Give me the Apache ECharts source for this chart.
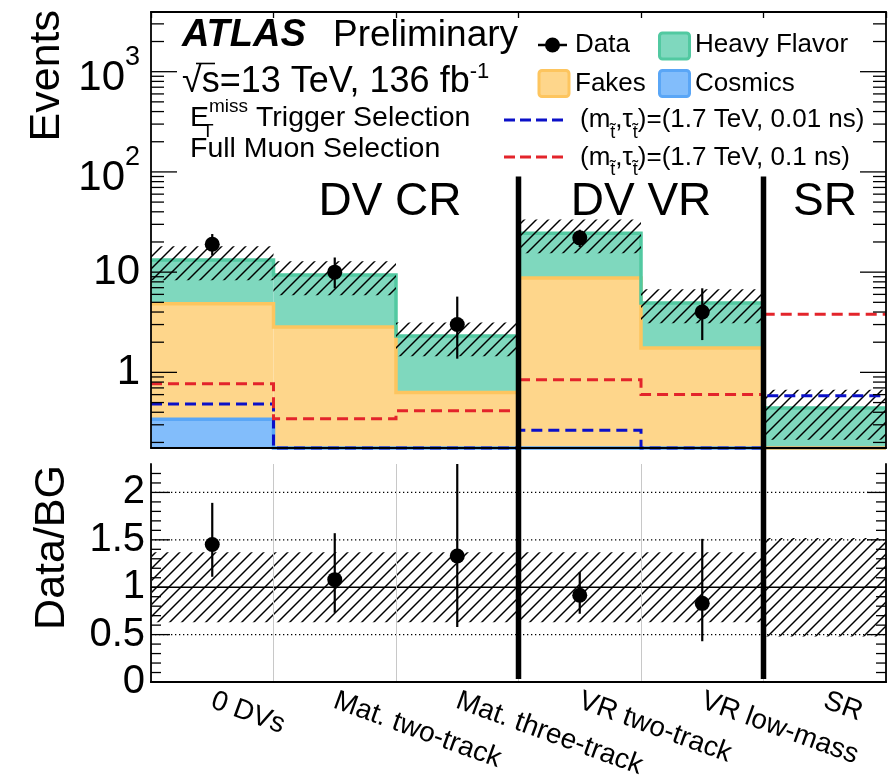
<!DOCTYPE html>
<html><head><meta charset="utf-8">
<script src="https://cdn.jsdelivr.net/npm/echarts@6/dist/echarts.min.js"></script>
<style>html,body{margin:0;padding:0;background:#fff}#c{width:888px;height:784px}</style>
</head><body><div id="c"></div>
<script>
// ---------------- data ----------------
const categories = ['0 DVs', 'Mat. two-track', 'Mat. three-track', 'VR two-track', 'VR low-mass', 'SR'];
const cosmics     = [0.34, 0, 0, 0, 0, 0];
const fakes       = [4.51, 2.84, 0.63, 8.73, 1.75, 0];
const heavyFlavor = [8.35, 6.52, 1.67, 15.77, 3.17, 0.442];
const bkgRelUnc   = [0.37, 0.37, 0.37, 0.37, 0.37, 0.52];
const dataCounts  = [19, 10, 3, 22, 4];
const dataErrLow  = [14.7, 6.9, 1.37, 17.8, 2.1];
const dataErrHigh = [24.0, 14.0, 5.7, 26.5, 6.9];
const signal001   = [0.484, 0, 0, 0.264, 0, 0.586];   // (1.7 TeV, 0.01 ns)
const signal01    = [0.77, 0.345, 0.415, 0.846, 0.60, 3.8]; // (1.7 TeV, 0.1 ns)
const ratio       = [1.45, 1.08, 1.33, 0.915, 0.83];
const ratioLow    = [1.11, 0.73, 0.58, 0.72, 0.43];
const ratioHigh   = [1.89, 1.57, 2.55, 1.16, 1.51];
const topTicks      = [1, 10, 100, 1000];
const topTickLabels = ['1', '10', '10^2', '10^3'];
const topMinorTicks = [0.2,0.3,0.4,0.5,0.6,0.7,0.8,0.9, 2,3,4,5,6,7,8,9, 20,30,40,50,60,70,80,90, 200,300,400,500,600,700,800,900, 2000,3000];
const ratioTicks      = [0, 0.5, 1, 1.5, 2];
const ratioTickLabels = ['0', '0.5', '1', '1.5', '2'];
const ratioMinorTicks = [0.1,0.2,0.3,0.4,0.6,0.7,0.8,0.9,1.1,1.2,1.3,1.4,1.6,1.7,1.8,1.9,2.1,2.2];
const ratioDottedLines = [0.5, 1.5, 2];
const ratioUnityLine   = [1];
const regionLabels     = ['DV CR', 'DV VR', 'SR'];
const regionBoundaries = [3, 5];   // separator after bin index
const separatorTop     = 90;       // separator starts at this Events value

// ---------------- style ----------------
const FONT = '"Liberation Sans", Arial, Helvetica, sans-serif';
const Y_MIN = 0.176, Y_MAX = 3940, R_MAX = 2.3;
const C = { hf:'#7fd8be', hfEdge:'#52c9a1', fk:'#fed68b', fkEdge:'#fdc55f', cs:'#82bdfb', csEdge:'#5aa6f6', red:'#e3242b', blue:'#0b10c8' };

const chart = echarts.init(document.getElementById('c'), null, {renderer:'canvas'});

function hatchPattern() {
  const s = 12, cv = document.createElement('canvas'); cv.width = s; cv.height = s;
  const g = cv.getContext('2d'); g.strokeStyle = '#000'; g.lineWidth = 1.45;
  g.beginPath();
  g.moveTo(0, s); g.lineTo(s, 0);
  g.moveTo(-s/2, s/2); g.lineTo(s/2, -s/2);
  g.moveTo(s/2, s*1.5); g.lineTo(s*1.5, s/2);
  g.stroke();
  return {image: cv, repeat: 'repeat'};
}
const HATCH = hatchPattern();

const stackCos = cosmics.slice();
const stackFk  = cosmics.map((c, i) => c + fakes[i]);
const stackTot = stackFk.map((s, i) => s + heavyFlavor[i]);

function bw(api, yv) { return api.coord([1, yv])[0] - api.coord([0, yv])[0]; }

// filled bins [i, lower, upper]
function fillSeries(lower, upper, fill, z, xi, yi, yClamp) {
  return { type:'custom', xAxisIndex:xi, yAxisIndex:yi, z, silent:true, encode:{x:0, y:2},
    data: upper.map((u, i) => [i, lower ? lower[i] : 0, u]),
    renderItem: (params, api) => {
      const i = api.value(0), lo = Math.max(api.value(1), yClamp), hi = api.value(2);
      if (!(hi > lo)) return null;
      const a = api.coord([i, hi]), b = api.coord([i, lo]), w = bw(api, yClamp > 0 ? yClamp : 1);
      return {type:'rect', shape:{x:a[0]-w/2, y:a[1], width:w, height:b[1]-a[1]}, style:{fill}};
    }};
}
// step outline drawn as one polyline from all bins
function stepSeries(values, style, z, clampMin) {
  return { type:'custom', xAxisIndex:0, yAxisIndex:0, z, silent:true, encode:{x:0, y:1},
    data: values.map((v, i) => [i, v]),
    renderItem: (params, api) => {
      if (params.dataIndexInside !== 0) return null;
      const pts = [];
      for (let k = 0; k < values.length; k++) {
        const v = Math.max(api.value(1, k), clampMin);
        const c = api.coord([api.value(0, k), v]), w = bw(api, clampMin);
        pts.push([c[0]-w/2, c[1]], [c[0]+w/2, c[1]]);
      }
      return {type:'polyline', shape:{points:pts}, style:Object.assign({fill:null}, style)};
    }};
}
function errSeries(lo, hi, xi, yi, z) {
  return { type:'custom', xAxisIndex:xi, yAxisIndex:yi, z, silent:true, encode:{x:0, y:2},
    data: lo.map((l, i) => [i, l, hi[i]]),
    renderItem: (params, api) => {
      const a = api.coord([api.value(0), api.value(1)]), b = api.coord([api.value(0), api.value(2)]);
      const cs = params.coordSys;
      return {type:'line', shape:{x1:a[0], y1:a[1], x2:b[0], y2:Math.max(b[1], cs.y)}, style:{stroke:'#000', lineWidth:2.2}};
    }};
}
function tickSeries(vals, len, xi, yi) {
  return { type:'custom', xAxisIndex:xi, yAxisIndex:yi, z:20, silent:true, encode:{x:0, y:1},
    data: vals.map(v => [0, v]),
    renderItem: (params, api) => {
      const y = api.coord([0, api.value(1)])[1], cs = params.coordSys;
      return {type:'group', children:[
        {type:'line', shape:{x1:cs.x, y1:y, x2:cs.x+len, y2:y}, style:{stroke:'#000', lineWidth:1.3}},
        {type:'line', shape:{x1:cs.x+cs.width-len, y1:y, x2:cs.x+cs.width, y2:y}, style:{stroke:'#000', lineWidth:1.3}}
      ]};
    }};
}
function hLineSeries(vals, style, z) {
  return { type:'custom', xAxisIndex:2, yAxisIndex:2, z, silent:true, encode:{x:0, y:1},
    data: vals.map(v => [0, v]),
    renderItem: (params, api) => {
      const y = api.coord([0, api.value(1)])[1], cs = params.coordSys;
      return {type:'line', shape:{x1:cs.x, y1:y, x2:cs.x+cs.width, y2:y}, style:Object.assign({fill:null}, style)};
    }};
}
function separatorSeries(top) {
  return { type:'custom', xAxisIndex: top ? 0 : 2, yAxisIndex: top ? 0 : 2, z:30, silent:true, encode:{x:0, y:1},
    data: regionBoundaries.map(b => [b, top ? separatorTop : R_MAX]),
    renderItem: (params, api) => {
      const cs = params.coordSys, b = api.value(0);
      const yv = top ? Y_MIN : 0.5;
      const x = (api.coord([b-1, yv])[0] + api.coord([b, yv])[0]) / 2;
      const y1 = top ? api.coord([b, api.value(1)])[1] : cs.y;
      const y2 = top ? cs.y + cs.height + 16 : cs.y + cs.height - 3;
      return {type:'line', shape:{x1:x, y1, x2:x, y2}, style:{stroke:'#000', lineWidth:5.5}};
    }};
}

const labelFmtTop = v => {
  const k = topTicks.findIndex(t => Math.abs(t - v) / t < 1e-6);
  if (k < 0) return '';
  const lab = topTickLabels[k];
  if (lab.indexOf('^') >= 0) { const p = lab.split('^'); return '{b|' + p[0] + '}{e|' + p[1] + '}'; }
  return '{n|' + lab + '}';
};
const labelFmtRatio = v => {
  const k = ratioTicks.findIndex(t => Math.abs(t - v) < 1e-6);
  return k < 0 ? '' : ratioTickLabels[k];
};

const frameLine = {show:true, lineStyle:{color:'#000', width:1.8}};
const catAxis = (gi, pos, extra) => Object.assign({type:'category', gridIndex:gi, position:pos, data:categories, boundaryGap:true, z:10,
  axisLine:frameLine, axisTick:{show:false}, axisLabel:{show:false}, splitLine:{show:false}}, extra || {});

const option = {
  animation:false,
  backgroundColor:'#fff',
  grid:[{left:151, top:12, width:735, height:436}, {left:151, top:464, width:735, height:218}],
  xAxis:[
    catAxis(0, 'bottom'),
    catAxis(0, 'top', {axisTick:{show:true, inside:true, length:6, lineStyle:{color:'#000', width:1.3}}}),
    catAxis(1, 'bottom', {axisLabel:{show:true, interval:0, rotate:-20, margin:18, fontSize:28, fontFamily:FONT, color:'#000'},
      splitLine:{show:true, interval:0, lineStyle:{color:'#c8c8c8', width:1}}}),
    catAxis(1, 'top')
  ],
  yAxis:[
    {type:'log', logBase:10, gridIndex:0, position:'left', min:Y_MIN, max:Y_MAX, z:10, axisLine:frameLine, axisTick:{show:false}, splitLine:{show:false},
      axisLabel:{show:true, margin:11, formatter:labelFmtTop, color:'#000',
        rich:{n:{fontSize:42, fontFamily:FONT, lineHeight:44, color:'#000'},
              b:{fontSize:42, fontFamily:FONT, lineHeight:44, verticalAlign:'bottom', color:'#000'},
              e:{fontSize:27, fontFamily:FONT, lineHeight:56, verticalAlign:'top', color:'#000'}}}},
    {type:'log', logBase:10, gridIndex:0, position:'right', min:Y_MIN, max:Y_MAX, z:10, axisLine:frameLine, axisTick:{show:false}, axisLabel:{show:false}, splitLine:{show:false}},
    {type:'value', gridIndex:1, position:'left', min:0, max:R_MAX, interval:0.5, z:10, axisLine:frameLine, axisTick:{show:false}, splitLine:{show:false},
      axisLabel:{show:true, margin:6, formatter:labelFmtRatio, fontSize:40, fontFamily:FONT, color:'#000'}},
    {type:'value', gridIndex:1, position:'right', min:0, max:R_MAX, interval:0.5, z:10, axisLine:frameLine, axisTick:{show:false}, axisLabel:{show:false}, splitLine:{show:false}}
  ],
  series:[
    // stacked backgrounds
    fillSeries(null, stackCos, C.cs, 1, 0, 0, Y_MIN),
    fillSeries(stackCos, stackFk, C.fk, 1, 0, 0, Y_MIN),
    fillSeries(stackFk, stackTot, C.hf, 1, 0, 0, Y_MIN),
    stepSeries(stackCos, {stroke:C.csEdge, lineWidth:3.5}, 2, Y_MIN),
    stepSeries(stackFk, {stroke:C.fkEdge, lineWidth:3.5}, 2, Y_MIN),
    stepSeries(stackTot, {stroke:C.hfEdge, lineWidth:3.5}, 2, Y_MIN),
    // uncertainty hatch
    fillSeries(stackTot.map((t, i) => t * (1 - bkgRelUnc[i])), stackTot.map((t, i) => t * (1 + bkgRelUnc[i])), HATCH, 3, 0, 0, Y_MIN),
    // signals
    stepSeries(signal001, {stroke:C.blue, lineWidth:3, lineDash:[11, 6]}, 4, Y_MIN),
    stepSeries(signal01, {stroke:C.red, lineWidth:3, lineDash:[11, 6]}, 4, Y_MIN),
    // data
    errSeries(dataErrLow, dataErrHigh, 0, 0, 5),
    {type:'scatter', xAxisIndex:0, yAxisIndex:0, z:6, silent:true, symbol:'circle', symbolSize:15, itemStyle:{color:'#000', opacity:1},
      data: dataCounts.map((v, i) => [i, v])},
    // ratio panel
    fillSeries(bkgRelUnc.map(r => 1 - r), bkgRelUnc.map(r => 1 + r), HATCH, 2, 2, 2, 0),
    hLineSeries(ratioDottedLines, {stroke:'#000', lineWidth:1.3, lineDash:[1.3, 2.7]}, 3),
    hLineSeries(ratioUnityLine, {stroke:'#000', lineWidth:1.4}, 3),
    errSeries(ratioLow, ratioHigh, 2, 2, 5),
    {type:'scatter', xAxisIndex:2, yAxisIndex:2, z:6, silent:true, symbol:'circle', symbolSize:15, itemStyle:{color:'#000', opacity:1},
      data: ratio.map((v, i) => [i, v])},
    // ticks
    tickSeries(topTicks, 26, 0, 0),
    tickSeries(topMinorTicks, 13, 0, 0),
    tickSeries(ratioTicks, 19, 2, 2),
    tickSeries(ratioMinorTicks, 10, 2, 2),
    // region separators
    separatorSeries(true),
    separatorSeries(false)
  ],
  graphic:[]
};

// ---------------- texts / legend ----------------
function txt(x, y, text, font, extra) {
  return Object.assign({type:'text', x, y, z:100, silent:true,
    style:Object.assign({text, font, fill:'#000', textAlign:'left', align:'left', textVerticalAlign:'middle', verticalAlign:'middle'}, (extra && extra.style) || {})},
    (extra && extra.el) || {});
}
const G = option.graphic;
// axis titles
G.push(txt(47, 10, 'Events', '43px ' + FONT, {style:{textAlign:'right', align:'right'}, el:{rotation:Math.PI/2}}));
G.push(txt(52, 465, 'Data/BG', '43px ' + FONT, {style:{textAlign:'right', align:'right'}, el:{rotation:Math.PI/2}}));
// ATLAS label block
G.push(txt(182, 36, 'ATLAS', 'italic bold 38px ' + FONT));
G.push(txt(333, 36, 'Preliminary', '37px ' + FONT));
G.push(txt(182, 82, '', '36px ' + FONT, {style:{text:'{a|√s=13 TeV, 136 fb}{s|-1}',
  rich:{a:{fontSize:36, fontFamily:FONT, lineHeight:42, color:'#000'}, s:{fontSize:22, fontFamily:FONT, lineHeight:22, verticalAlign:'top', color:'#000'}}}}));
G.push({type:'line', z:100, silent:true, shape:{x1:196, y1:63.5, x2:215, y2:63.5}, style:{stroke:'#000', lineWidth:1.6}});
G.push(txt(190, 118, '', '28.5px ' + FONT, {style:{text:'{a|E}{s|miss}{a| Trigger Selection}',
  rich:{a:{fontSize:28.5, fontFamily:FONT, lineHeight:42, color:'#000'}, s:{fontSize:19, fontFamily:FONT, lineHeight:19, verticalAlign:'top', color:'#000'}}}}));
G.push(txt(202, 132, 'T', '19px ' + FONT));
G.push(txt(190, 149.5, 'Full Muon Selection', '28.5px ' + FONT));
// region labels
G.push(txt(390, 202.5, regionLabels[0], '46px ' + FONT, {style:{textAlign:'center', align:'center'}}));
G.push(txt(641, 202.5, regionLabels[1], '46px ' + FONT, {style:{textAlign:'center', align:'center'}}));
G.push(txt(825, 202.5, regionLabels[2], '46px ' + FONT, {style:{textAlign:'center', align:'center'}}));
// legend
G.push({type:'line', z:100, silent:true, shape:{x1:538, y1:45, x2:567, y2:45}, style:{stroke:'#000', lineWidth:2.5}});
G.push({type:'circle', z:101, silent:true, shape:{cx:552.5, cy:45, r:7.5}, style:{fill:'#000'}});
G.push(txt(575, 45, 'Data', '26px ' + FONT));
G.push({type:'rect', z:100, silent:true, shape:{x:659.5, y:33, width:30, height:26, r:3}, style:{fill:C.hf, stroke:C.hfEdge, lineWidth:3}});
G.push(txt(695, 45, 'Heavy Flavor', '26px ' + FONT));
G.push({type:'rect', z:100, silent:true, shape:{x:539, y:70.5, width:30, height:26, r:3}, style:{fill:C.fk, stroke:C.fkEdge, lineWidth:3}});
G.push(txt(575, 83.5, 'Fakes', '26px ' + FONT));
G.push({type:'rect', z:100, silent:true, shape:{x:659.5, y:70.5, width:30, height:26, r:3}, style:{fill:C.cs, stroke:C.csEdge, lineWidth:3}});
G.push(txt(695, 83.5, 'Cosmics', '26px ' + FONT));
G.push({type:'line', z:100, silent:true, shape:{x1:504, y1:120, x2:566, y2:120}, style:{stroke:C.blue, lineWidth:3, lineDash:[11, 5]}});
G.push({type:'line', z:100, silent:true, shape:{x1:504, y1:157, x2:566, y2:157}, style:{stroke:C.red, lineWidth:3, lineDash:[11, 5]}});
const sigRich = {a:{fontSize:26, fontFamily:FONT, lineHeight:44, color:'#000'}, t:{fontSize:18, fontFamily:FONT, lineHeight:18, verticalAlign:'bottom', color:'#000'}};
G.push(txt(580, 120, '', '26px ' + FONT, {style:{text:'{a|(m}{t|t\u0303}{a|,τ}{t|t\u0303}{a|)=(1.7 TeV, 0.01 ns)}', rich:sigRich}}));
G.push(txt(580, 157.5, '', '26px ' + FONT, {style:{text:'{a|(m}{t|t\u0303}{a|,τ}{t|t\u0303}{a|)=(1.7 TeV, 0.1 ns)}', rich:sigRich}}));

chart.setOption(option);
</script>
</body></html>
